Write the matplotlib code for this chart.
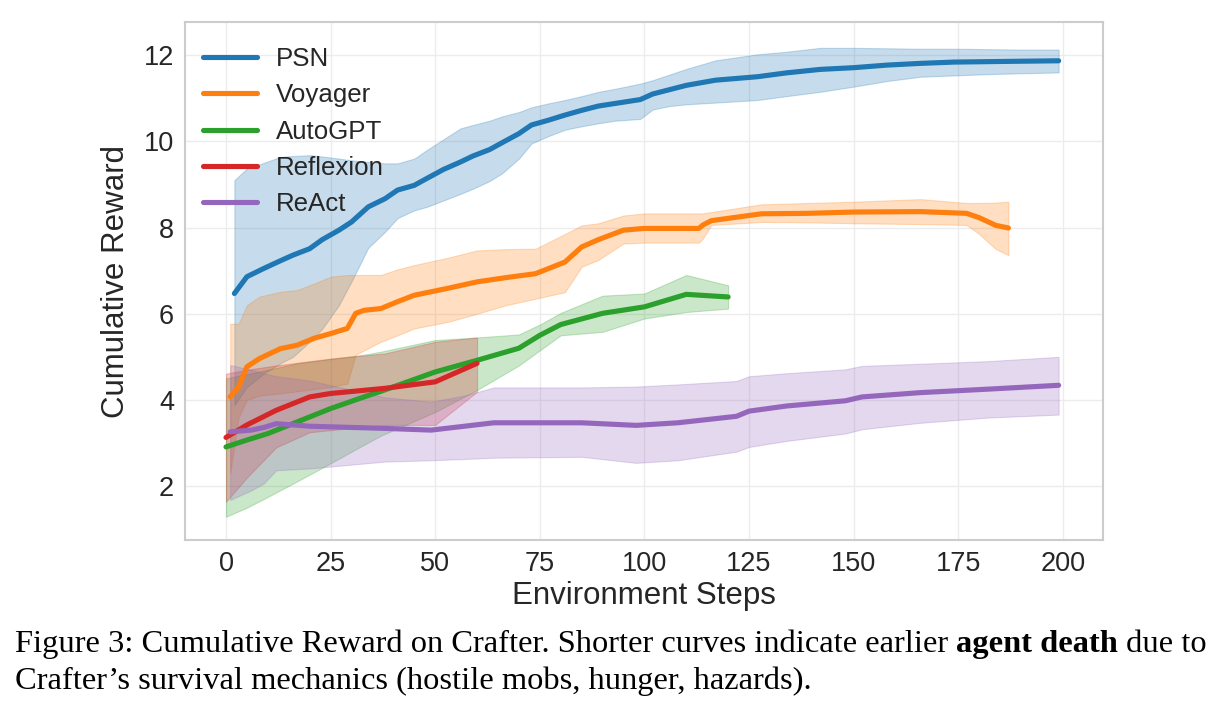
import matplotlib
matplotlib.use('Agg')
import matplotlib.pyplot as plt
import numpy as np

# PSN
psn_x = [2, 5, 9, 13, 16, 20, 23, 27, 30, 34, 38, 41, 45, 48, 52, 56, 59, 63, 66, 70, 73,
         77, 81, 85, 89, 93, 99, 102, 106, 110, 117, 127, 134, 142, 150, 158, 166, 174, 182, 190, 199]
psn_mean = [6.47, 6.86, 7.05, 7.23, 7.36, 7.51, 7.72, 7.94, 8.13, 8.48, 8.67, 8.87, 8.98, 9.14, 9.35,
            9.52, 9.66, 9.81, 9.97, 10.18, 10.38, 10.49, 10.61, 10.72, 10.82, 10.88, 10.97, 11.10,
            11.20, 11.30, 11.42, 11.50, 11.59, 11.67, 11.71, 11.77, 11.81, 11.84, 11.85, 11.86, 11.87]
psn_lo = [3.88, 4.30, 4.61, 4.85, 5.00, 5.35, 5.65, 6.20, 6.75, 7.53, 7.90, 8.22, 8.40, 8.48, 8.63,
          8.78, 8.90, 9.08, 9.26, 9.60, 9.95, 10.12, 10.27, 10.35, 10.42, 10.48, 10.52, 10.74,
          10.82, 10.86, 10.90, 10.96, 11.05, 11.15, 11.27, 11.40, 11.50, 11.53, 11.56, 11.58, 11.60]
psn_hi = [9.10, 9.37, 9.50, 9.64, 9.66, 9.68, 9.65, 9.60, 9.56, 9.52, 9.49, 9.49, 9.60, 9.80, 10.05,
          10.30, 10.38, 10.48, 10.58, 10.68, 10.79, 10.88, 10.96, 11.05, 11.15, 11.22, 11.34, 11.42,
          11.55, 11.68, 11.88, 12.02, 12.08, 12.17, 12.17, 12.16, 12.15, 12.15, 12.14, 12.13, 12.13]

# Voyager
voy_x = [1, 3, 5, 8, 13, 17, 21, 25, 29, 31, 33, 37, 41, 45, 53, 60, 67, 74, 81, 85, 89,
         95, 100, 113, 114, 116, 128, 139, 150, 166, 177, 180, 184, 187]
voy_mean = [4.07, 4.30, 4.77, 4.96, 5.19, 5.27, 5.43, 5.54, 5.66, 6.01, 6.08, 6.12, 6.28, 6.43,
            6.59, 6.74, 6.84, 6.93, 7.20, 7.55, 7.72, 7.94, 7.98, 7.98, 8.06, 8.16, 8.32, 8.33,
            8.36, 8.37, 8.33, 8.23, 8.05, 7.99]
voy_lo = [2.30, 3.60, 4.00, 4.10, 4.15, 4.20, 4.25, 4.30, 4.38, 5.05, 5.15, 5.35, 5.50, 5.66,
          5.81, 6.00, 6.20, 6.35, 6.50, 7.09, 7.25, 7.63, 7.65, 7.65, 7.75, 8.06, 8.13, 8.12,
          8.10, 8.08, 8.06, 7.85, 7.50, 7.36]
voy_hi = [5.77, 5.77, 6.20, 6.40, 6.51, 6.55, 6.70, 6.86, 6.90, 6.90, 6.90, 6.90, 7.03, 7.13,
          7.30, 7.47, 7.50, 7.51, 7.85, 8.05, 8.10, 8.28, 8.33, 8.33, 8.33, 8.36, 8.54, 8.57,
          8.60, 8.66, 8.57, 8.57, 8.58, 8.60]

# AutoGPT
gpt_x = [0, 5, 10, 17, 25, 33, 37, 50, 60, 70, 75, 80, 90, 100, 110, 120]
gpt_mean = [2.91, 3.07, 3.22, 3.49, 3.80, 4.07, 4.20, 4.65, 4.92, 5.20, 5.50, 5.75, 6.01, 6.16, 6.45, 6.39]
gpt_lo = [1.29, 1.50, 1.75, 2.11, 2.53, 2.96, 3.17, 3.72, 4.23, 4.80, 5.15, 5.50, 5.58, 5.89, 6.04, 6.12]
gpt_hi = [4.50, 4.60, 4.70, 4.85, 4.95, 5.05, 5.12, 5.39, 5.45, 5.52, 5.75, 6.02, 6.42, 6.47, 6.90, 6.66]

# Reflexion
ref_x = [0, 5, 12, 20, 25, 38, 50, 60]
ref_mean = [3.13, 3.42, 3.76, 4.07, 4.15, 4.27, 4.42, 4.85]
ref_lo = [1.64, 2.20, 2.90, 3.25, 3.30, 3.42, 3.42, 4.19]
ref_hi = [4.61, 4.70, 4.80, 4.90, 4.96, 5.08, 5.35, 5.45]

# ReAct
rea_x = [1, 6, 9, 12, 20, 38, 49, 57, 64, 85, 98, 108, 122, 125, 134, 148, 152, 166, 182, 199]
rea_mean = [3.26, 3.30, 3.36, 3.45, 3.39, 3.34, 3.30, 3.39, 3.47, 3.47, 3.41, 3.47, 3.62, 3.74,
            3.86, 3.98, 4.07, 4.17, 4.25, 4.34]
rea_lo = [1.68, 1.90, 2.06, 2.37, 2.41, 2.57, 2.60, 2.63, 2.66, 2.68, 2.54, 2.60, 2.80, 2.91,
          3.05, 3.22, 3.32, 3.47, 3.59, 3.66]
rea_hi = [4.81, 4.70, 4.62, 4.55, 4.45, 4.06, 3.96, 4.10, 4.29, 4.29, 4.31, 4.36, 4.44, 4.55,
          4.62, 4.71, 4.79, 4.84, 4.90, 5.00]

series = [
    ('PSN', psn_x, psn_mean, psn_lo, psn_hi, '#1f77b4'),
    ('Voyager', voy_x, voy_mean, voy_lo, voy_hi, '#ff7f0e'),
    ('AutoGPT', gpt_x, gpt_mean, gpt_lo, gpt_hi, '#2ca02c'),
    ('Reflexion', ref_x, ref_mean, ref_lo, ref_hi, '#d62728'),
    ('ReAct', rea_x, rea_mean, rea_lo, rea_hi, '#9467bd'),
]

plt.rcParams['font.family'] = ['Liberation Sans', 'DejaVu Sans']
text_col = '#262626'

fig = plt.figure(figsize=(12.18, 7.08), dpi=100)
ax = fig.add_axes([185 / 1218, 1 - 540 / 708, 918 / 1218, 518 / 708])

for name, x, m, lo, hi, c in series:
    ax.fill_between(x, lo, hi, color=c, alpha=0.25, linewidth=0.8)
    ax.plot(x, m, color=c, linewidth=3.7, label=name, solid_capstyle='round')

ax.set_xlim(-9.8, 209.6)
ax.set_ylim(0.75, 12.77)
ax.set_xticks(np.arange(0, 201, 25))
ax.set_yticks([2, 4, 6, 8, 10, 12])
ax.grid(True, color='#ececec', linewidth=1.0)
ax.set_axisbelow(True)
for s in ax.spines.values():
    s.set_color('#cccccc')
    s.set_linewidth(1.5)
ax.tick_params(length=0, labelsize=19.5, labelcolor=text_col, pad=8)
ax.set_xlabel('Environment Steps', fontsize=22.5, color=text_col, labelpad=3)
ax.set_ylabel('Cumulative Reward', fontsize=22.5, color=text_col, labelpad=9)

leg = ax.legend(loc='upper left', frameon=False, fontsize=18.6, handlelength=2.1,
                handletextpad=0.75, labelspacing=0.48,
                bbox_to_anchor=(0.008, 0.972), borderaxespad=0.0)
for line in leg.get_lines():
    line.set_linewidth(3.7)
for t in leg.get_texts():
    t.set_color(text_col)

# caption
cap = dict(fontsize=23.4, family='Liberation Serif', color='black', va='baseline')
fig.canvas.draw()
r = fig.canvas.get_renderer()
t1 = fig.text(15 / 1218, 1 - 652 / 708,
              'Figure 3: Cumulative Reward on Crafter. Shorter curves indicate earlier ', **cap)
bb = t1.get_window_extent(r)
t2 = fig.text(bb.x1 / 1218, 1 - 652 / 708, 'agent death', fontweight='bold', **cap)
bb = t2.get_window_extent(r)
fig.text(bb.x1 / 1218, 1 - 652 / 708, ' due to', **cap)
fig.text(15 / 1218, 1 - 689 / 708,
         'Crafter\u2019s survival mechanics (hostile mobs, hunger, hazards).', **cap)

fig.savefig('out.png', dpi=100)
